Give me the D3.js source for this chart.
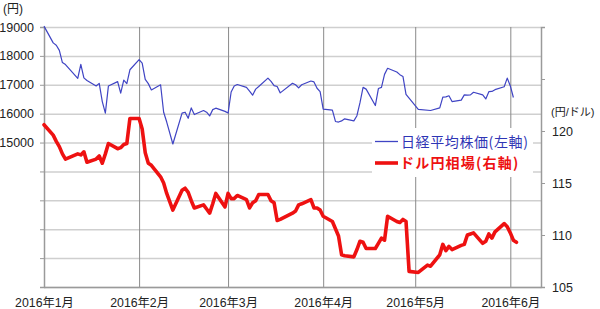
<!DOCTYPE html>
<html><head><meta charset="utf-8">
<script src="https://cdn.jsdelivr.net/npm/d3@7"></script>
<style>
body{margin:0;background:#fff}
text{font-family:"Liberation Sans","Noto Sans CJK JP",sans-serif}
</style>
</head><body><svg id="c" width="600" height="309"></svg>
<script>
// ---- data ----
const nikkeiDates = [
"2016-01-01","2016-01-04","2016-01-05","2016-01-06","2016-01-07","2016-01-08","2016-01-12","2016-01-13","2016-01-14","2016-01-15","2016-01-18","2016-01-19","2016-01-20","2016-01-21","2016-01-22","2016-01-25","2016-01-26","2016-01-27","2016-01-28","2016-01-29",
"2016-02-01","2016-02-02","2016-02-03","2016-02-04","2016-02-05","2016-02-08","2016-02-09","2016-02-10","2016-02-12","2016-02-15","2016-02-16","2016-02-17","2016-02-18","2016-02-19","2016-02-22","2016-02-23","2016-02-24","2016-02-25","2016-02-26","2016-02-29",
"2016-03-01","2016-03-02","2016-03-03","2016-03-04","2016-03-07","2016-03-08","2016-03-09","2016-03-10","2016-03-11","2016-03-14","2016-03-15","2016-03-16","2016-03-17","2016-03-18","2016-03-22","2016-03-23","2016-03-24","2016-03-25","2016-03-28","2016-03-29","2016-03-30","2016-03-31",
"2016-04-01","2016-04-04","2016-04-05","2016-04-06","2016-04-07","2016-04-08","2016-04-11","2016-04-12","2016-04-13","2016-04-14","2016-04-15","2016-04-18","2016-04-19","2016-04-20","2016-04-21","2016-04-22","2016-04-25","2016-04-26","2016-04-27","2016-04-28",
"2016-05-02","2016-05-06","2016-05-09","2016-05-10","2016-05-11","2016-05-12","2016-05-13","2016-05-16","2016-05-17","2016-05-18","2016-05-19","2016-05-20","2016-05-23","2016-05-24","2016-05-25","2016-05-26","2016-05-27","2016-05-30","2016-05-31",
"2016-06-01","2016-06-02"];
const nikkeiValues = [
19030,18450,18370,18190,17770,17700,17220,17710,17240,17150,16960,17050,16420,16020,16960,17110,16710,17160,17040,17520,
17870,17750,17190,17040,16820,17000,16050,15710,14950,16020,16050,15840,16200,15970,16110,16050,15920,16140,16190,16080,
16020,16750,16960,17010,16910,16780,16640,16850,16940,17230,17120,16970,16940,16720,17050,17000,16890,17000,17130,17100,16880,16760,
16160,16120,15730,15710,15750,15820,15750,15930,16380,16910,16850,16280,16870,16910,17360,17570,17440,17350,17290,16670,
16150,16110,16200,16570,16580,16620,16420,16470,16650,16640,16650,16740,16650,16510,16760,16770,16830,16930,17230,
16960,16560];

const fxDates = [
"2016-01-01","2016-01-04","2016-01-05","2016-01-06","2016-01-07","2016-01-08","2016-01-12","2016-01-13","2016-01-14","2016-01-15","2016-01-18","2016-01-19","2016-01-20","2016-01-21","2016-01-22","2016-01-25","2016-01-26","2016-01-27","2016-01-28","2016-01-29",
"2016-02-01","2016-02-02","2016-02-03","2016-02-04","2016-02-05","2016-02-08","2016-02-09","2016-02-10","2016-02-12","2016-02-15","2016-02-16","2016-02-17","2016-02-18","2016-02-19","2016-02-22","2016-02-23","2016-02-24","2016-02-25","2016-02-26","2016-02-29",
"2016-03-01","2016-03-02","2016-03-03","2016-03-04","2016-03-07","2016-03-08","2016-03-09","2016-03-10","2016-03-11","2016-03-14","2016-03-15","2016-03-16","2016-03-17","2016-03-18","2016-03-22","2016-03-23","2016-03-24","2016-03-25","2016-03-28","2016-03-29","2016-03-30","2016-03-31",
"2016-04-01","2016-04-04","2016-04-05","2016-04-06","2016-04-07","2016-04-08","2016-04-11","2016-04-12","2016-04-13","2016-04-14","2016-04-15","2016-04-18","2016-04-19","2016-04-20","2016-04-21","2016-04-22","2016-04-25","2016-04-26","2016-04-27","2016-04-28","2016-04-29",
"2016-05-02","2016-05-05","2016-05-06","2016-05-09","2016-05-10","2016-05-11","2016-05-12","2016-05-13","2016-05-16","2016-05-17","2016-05-18","2016-05-19","2016-05-20","2016-05-23","2016-05-24","2016-05-25","2016-05-26","2016-05-27","2016-05-30","2016-05-31",
"2016-06-01","2016-06-02","2016-06-03"];
const fxValues = [
120.6,119.6,119.0,118.5,117.8,117.3,117.8,117.7,118.0,117.0,117.3,117.6,116.9,117.8,118.8,118.3,118.4,118.7,118.8,121.2,
121.2,120.2,117.9,116.9,116.7,115.6,115.0,114.0,112.4,114.3,114.5,114.1,113.3,112.6,112.9,112.5,112.1,113.0,114.0,112.7,
114.0,113.5,113.5,113.8,113.4,112.6,113.1,113.3,113.9,113.9,113.3,113.1,111.4,111.5,112.1,112.3,112.9,113.0,113.4,112.6,112.6,112.4,
111.8,111.3,110.6,109.9,108.1,108.0,107.9,108.6,109.4,109.3,108.7,108.7,109.2,109.7,109.5,111.8,111.3,111.2,111.5,111.3,106.5,
106.4,107.1,107.0,108.1,109.1,108.5,108.9,108.6,109.0,109.1,110.0,110.1,110.2,109.2,109.4,110.1,109.7,110.3,111.1,110.8,
110.2,109.5,109.3];

const monthTicks = ["2016-01-01","2016-02-01","2016-03-01","2016-04-01","2016-05-01","2016-06-01"];
const monthLabels = ["2016年1月","2016年2月","2016年3月","2016年4月","2016年5月","2016年6月"];
const leftTicks = [10000,11000,12000,13000,14000,15000,16000,17000,18000,19000];
const leftLabeled = [15000,16000,17000,18000,19000];
const rightTicks = [105,110,115,120,125,130];
const rightLabeled = [105,110,115,120];
const legendLabels = ["日経平均株価(左軸)","ドル円相場(右軸)"];

// ---- chart ----
const parse = d3.timeParse("%Y-%m-%d");
const svg = d3.select("#c");
const L = 44, R = 541, T = 27, B = 287;
const x = d3.scaleTime().domain([parse("2016-01-01"), parse("2016-06-11")]).range([L, R]);
const yL = d3.scaleLinear().domain([10000, 19000]).range([B, T]);
const yR = d3.scaleLinear().domain([105, 130]).range([B, T]);

// horizontal gridlines
const gh = svg.append("g").attr("transform", `translate(${L},0)`)
  .call(d3.axisLeft(yL).tickValues(leftTicks).tickSize(-(R - L)).tickFormat(""));
gh.select(".domain").remove();
gh.selectAll("line").attr("stroke", "#cfcfcf").attr("stroke-width", 1.5);

// vertical month lines
const gv = svg.append("g").attr("transform", `translate(0,${B})`)
  .call(d3.axisBottom(x).tickValues(monthTicks.map(parse)).tickSize(-(B - T)).tickFormat(""));
gv.select(".domain").remove();
gv.selectAll("line").attr("stroke", "#8a8a8a").attr("stroke-width", 1);

// legend background
svg.append("rect").attr("x", 372).attr("y", 128).attr("width", 161).attr("height", 49).attr("fill", "#fff");

// left axis
const ga = svg.append("g").attr("transform", `translate(${L},0)`)
  .call(d3.axisLeft(yL).tickValues(leftTicks).tickSize(4).tickPadding(6)
    .tickFormat(d => leftLabeled.includes(d) ? d : ""));
ga.select(".domain").attr("stroke", "#9a9a9a").attr("stroke-width", 1.5);
ga.selectAll("line").attr("stroke", "#9a9a9a");
ga.selectAll("text").attr("font-size", 12.5).attr("fill", "#222").style("font-family", '"Liberation Sans",sans-serif');

// right axis
const gr = svg.append("g").attr("transform", `translate(${R},0)`)
  .call(d3.axisRight(yR).tickValues(rightTicks).tickSize(4).tickPadding(7)
    .tickFormat(d => rightLabeled.includes(d) ? d : ""));
gr.select(".domain").attr("stroke", "#9a9a9a").attr("stroke-width", 1.5);
gr.selectAll("line").attr("stroke", "#9a9a9a");
gr.selectAll("text").attr("font-size", 12.5).attr("fill", "#222").style("font-family", '"Liberation Sans",sans-serif');

// bottom axis
const gb = svg.append("g").attr("transform", `translate(0,${B})`)
  .call(d3.axisBottom(x).tickValues(monthTicks.map(parse)).tickSize(0).tickPadding(11)
    .tickFormat((d, i) => monthLabels[i]));
gb.select(".domain").attr("stroke", "#9a9a9a").attr("stroke-width", 1.5);
gb.selectAll("text").attr("font-size", 12.3).attr("fill", "#222");

// unit labels
svg.append("text").attr("x", 3).attr("y", 13).attr("font-size", 12).attr("fill", "#222").text("(円)");
svg.append("text").attr("x", 551).attr("y", 116).attr("font-size", 11).attr("fill", "#222").text("(円/ドル)");

// lines
const nikkei = nikkeiDates.map((d, i) => [parse(d), nikkeiValues[i]]);
const fx = fxDates.map((d, i) => [parse(d), fxValues[i]]);
svg.append("path").datum(nikkei)
  .attr("d", d3.line().x(d => x(d[0])).y(d => yL(d[1])))
  .attr("fill", "none").attr("stroke", "#3f44c4").attr("stroke-width", 1.2).attr("stroke-linejoin", "round");
svg.append("path").datum(fx)
  .attr("d", d3.line().x(d => x(d[0])).y(d => yR(d[1])))
  .attr("fill", "none").attr("stroke", "#ee1111").attr("stroke-width", 3.6).attr("stroke-linejoin", "round").attr("stroke-linecap", "round");

// legend
svg.append("line").attr("x1", 375).attr("x2", 398).attr("y1", 141.5).attr("y2", 141.5).attr("stroke", "#3f44c4").attr("stroke-width", 1.3);
svg.append("text").attr("x", 401).attr("y", 146.5).attr("font-size", 14).attr("fill", "#2f35b5").attr("letter-spacing", 0.6)
  .style("font-family", '"Noto Sans CJK JP",sans-serif').text(legendLabels[0]);
svg.append("line").attr("x1", 375).attr("x2", 398).attr("y1", 163).attr("y2", 163).attr("stroke", "#ee1111").attr("stroke-width", 3.6);
svg.append("text").attr("x", 400).attr("y", 168).attr("font-size", 14).attr("font-weight", "bold").attr("fill", "#ee1111").attr("letter-spacing", 1.2)
  .style("font-family", '"Noto Sans CJK JP",sans-serif').text(legendLabels[1]);
</script>
</body></html>
